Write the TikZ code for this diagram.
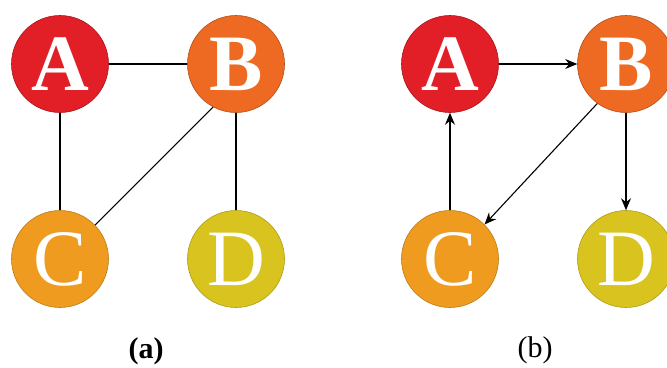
\documentclass[tikz,border=0pt]{standalone}
\usepackage{fontspec}
\setmainfont{Liberation Serif}
\usetikzlibrary{arrows.meta}
\definecolor{cA}{HTML}{E21E26}
\definecolor{cB}{HTML}{EE6A22}
\definecolor{cC}{HTML}{EE9B1F}
\definecolor{cD}{HTML}{D9C31F}
\tikzset{
  vtx/.style={circle, minimum size=97pt, inner sep=0pt, text=white,
    font=\fontsize{80}{80}\selectfont, line width=0.6pt},
  vA/.style={vtx, fill=cA, draw=cA!75!black, font=\fontsize{80}{80}\selectfont\bfseries},
  vB/.style={vtx, fill=cB, draw=cB!75!black, font=\fontsize{80}{80}\selectfont\bfseries},
  vC/.style={vtx, fill=cC, draw=cC!80!black},
  vD/.style={vtx, fill=cD, draw=cD!80!black},
  edge/.style={line width=1.1pt, black},
  arc/.style={edge, -{Stealth[length=12pt, width=10pt, inset=4pt]}},
  sublabel/.style={font=\fontsize{30}{30}\selectfont}
}
\begin{document}
\begin{tikzpicture}[x=1pt, y=-1pt]
\useasboundingbox (0,0) rectangle (667,367);
\clip (0,0) rectangle (667,367);
% undirected graph
\node[vA] (a1) at (60,64) {A};
\node[vB] (b1) at (236,64) {B};
\node[vC] (c1) at (60,259) {C};
\node[vD] (d1) at (236,259) {D};
\draw[edge] (a1) -- (b1);
\draw[edge] (a1) -- (c1);
\draw[edge] (b1) -- (d1);
\draw[edge] (b1.242) -- (c1.44);
\node[sublabel, font=\fontsize{30}{30}\selectfont\bfseries] (la) at (146,351) {(a)};
% directed graph
\node[vA] (a2) at (450,64) {A};
\node[vB] (b2) at (626,64) {B};
\node[vC] (c2) at (450,259) {C};
\node[vD] (d2) at (626,259) {D};
\draw[arc] (a2) -- (b2);
\draw[arc] (c2) -- (a2);
\draw[arc] (b2) -- (d2);
\draw[arc] (b2.234) -- (c2.45);
\node[sublabel] (lb) at (535,350) {(b)};
\end{tikzpicture}
\end{document}
